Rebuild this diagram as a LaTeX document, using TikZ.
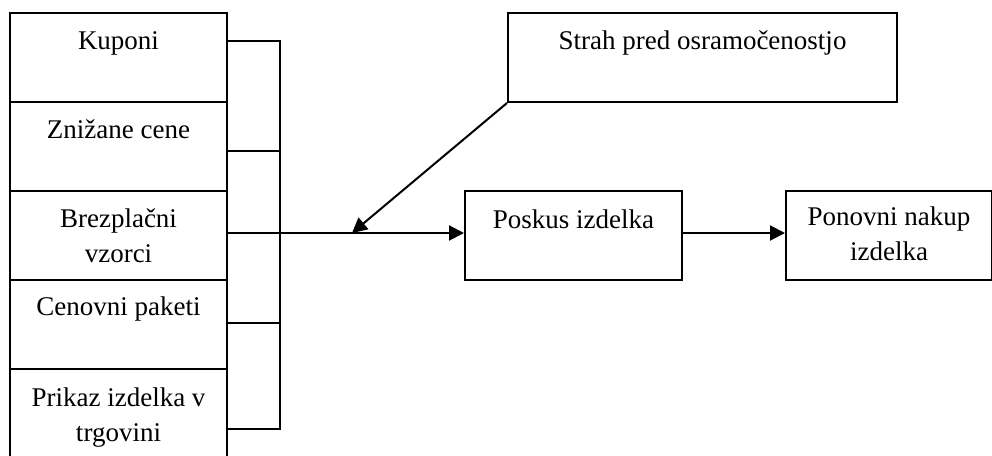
\documentclass[tikz,border=0pt]{standalone}
\usepackage{fontspec}
\setmainfont{Liberation Serif}
\usetikzlibrary{arrows.meta,positioning,calc}
\begin{document}
\begin{tikzpicture}[x=1pt,y=-1pt,
  box/.style={draw,line width=2pt,rectangle,inner sep=0pt},
  lbl/.style={anchor=base,align=center,inner sep=0pt,font=\fontsize{27}{35}\selectfont},
  conn/.style={line width=2pt},
  arr/.style={line width=2pt,-{Triangle[length=15pt,width=15pt]}}]
\useasboundingbox (0,0) rectangle (992,455);
\begin{scope}
\clip (0,0) rectangle (992,455);
% left column boxes
\node[box,minimum width=217pt,minimum height=89pt] (k1) at (118.5,57.5) {};
\node[box,minimum width=217pt,minimum height=89pt] (k2) at (118.5,146.5) {};
\node[box,minimum width=217pt,minimum height=89pt] (k3) at (118.5,235.5) {};
\node[box,minimum width=217pt,minimum height=89pt] (k4) at (118.5,324.5) {};
\node[box,minimum width=217pt,minimum height=94pt] (k5) at (118.5,416) {};
\node[lbl] (t1) at (118.5,49) {Kuponi};
\node[lbl] (t2) at (118.5,138) {Znižane cene};
\node[lbl] (t3) at (118.5,262) {Brezplačni\\vzorci};
\node[lbl] (t4) at (118.5,315) {Cenovni paketi};
\node[lbl] (t5) at (118.5,441) {Prikaz izdelka v\\trgovini};
\end{scope}
% right boxes
\node[box,minimum width=389pt,minimum height=89pt] (strah) at (702.5,57.5) {};
\node[lbl] (ts) at (702.5,49) {Strah pred osramočenostjo};
\node[box,minimum width=217pt,minimum height=89pt] (poskus) at (573.5,235.5) {};
\node[lbl] (tp) at (573.5,228) {Poskus izdelka};
\node[box,minimum width=206pt,minimum height=89pt] (ponovni) at (889,235.5) {};
\node[lbl] (tn) at (889,260) {Ponovni nakup\\izdelka};
% connectors
\coordinate (ja) at (280,41);
\coordinate (jb) at (280,151);
\coordinate (jc) at (280,233);
\coordinate (jd) at (280,323);
\coordinate (je) at (280,429);
\coordinate (hit) at (352,233);
\draw[conn] (k1.east |- ja) -- (ja) -- (je) -- (k5.east |- je);
\draw[conn] (k2.east |- jb) -- (jb);
\draw[conn] (k3.east |- jc) -- (jc);
\draw[conn] (k4.east |- jd) -- (jd);
\draw[arr] (jc) -- (poskus.west |- jc);
\draw[arr] (strah.south west) -- (hit);
\draw[arr] (poskus.east |- jc) -- (ponovni.west |- jc);
\end{tikzpicture}
\end{document}
